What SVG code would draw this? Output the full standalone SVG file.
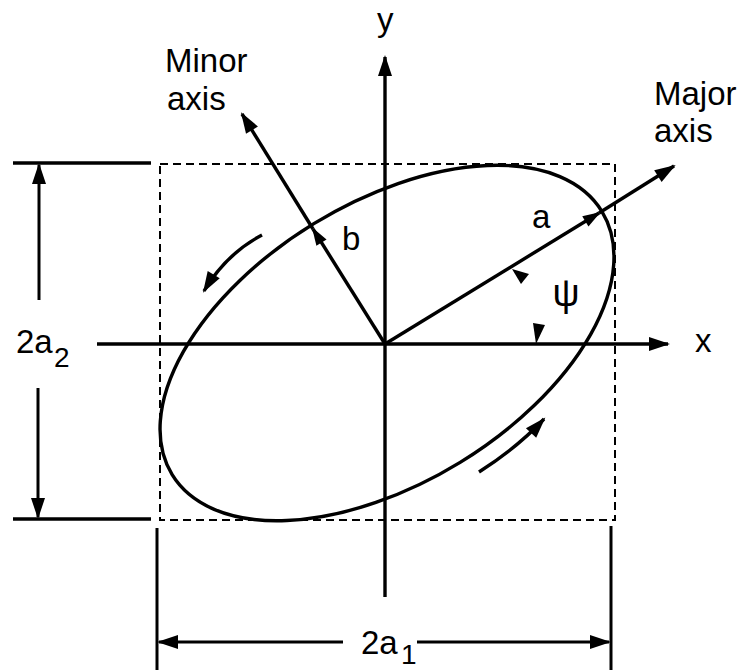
<svg xmlns="http://www.w3.org/2000/svg" width="743" height="672" viewBox="0 0 743 672">
<style>
  .ln { stroke:#000; stroke-width:3.4; fill:none; }
  .dim { stroke:#000; stroke-width:3; fill:none; }
  .dash { stroke:#000; stroke-width:2; fill:none; stroke-dasharray:8 5; }
  .t { font-family:"Liberation Sans", Arial, Helvetica, sans-serif; font-size:33px; fill:#000; }
  .s { font-family:"Liberation Sans", Arial, Helvetica, sans-serif; font-size:28px; fill:#000; }
</style>
<defs>
  <marker id="ah" markerUnits="userSpaceOnUse" markerWidth="21" markerHeight="14" refX="19" refY="7" orient="auto" overflow="visible">
    <path d="M0,0 L21,7 L0,14 Z" fill="#000"/>
  </marker>
  <marker id="ahs" markerUnits="userSpaceOnUse" markerWidth="18" markerHeight="12" refX="16" refY="6" orient="auto" overflow="visible">
    <path d="M0,0 L18,6 L0,12 Z" fill="#000"/>
  </marker>
</defs>
<rect width="743" height="672" fill="#fff"/>

<g id="bounding-box">
  <rect x="160" y="164" width="455" height="356" class="dash"/>
</g>

<g id="ellipse">
  <ellipse cx="387" cy="343" rx="252" ry="140" transform="rotate(-31.5 387 343)" class="ln"/>
</g>

<g id="connectors">
  <!-- axes -->
  <line x1="97" y1="344" x2="668" y2="344" class="ln" marker-end="url(#ah)"/>
  <line x1="385" y1="597" x2="385" y2="57" class="ln" marker-end="url(#ah)"/>
  <!-- major axis -->
  <line x1="385" y1="344" x2="599" y2="213" class="ln" marker-end="url(#ahs)"/>
  <line x1="599" y1="213" x2="674" y2="166" class="ln" marker-end="url(#ah)"/>
  <!-- minor axis -->
  <line x1="385" y1="344" x2="313" y2="229" class="ln" marker-end="url(#ahs)"/>
  <line x1="313" y1="229" x2="242" y2="114" class="ln" marker-end="url(#ah)"/>
  <!-- rotation arrows -->
  <path d="M262,235 Q226,254 204,291" class="ln" marker-end="url(#ah)"/>
  <path d="M479,472 Q518,447 544,419" class="ln" marker-end="url(#ah)"/>
  <!-- psi angle arrowheads -->
  <polygon points="512,269 529,274 521,284" fill="#000"/>
  <polygon points="533,323 545,325 536,344" fill="#000"/>
  <!-- 2a2 dimension -->
  <line x1="13" y1="163" x2="151" y2="163" class="ln"/>
  <line x1="13" y1="519" x2="151" y2="519" class="ln"/>
  <line x1="39" y1="300" x2="39" y2="165" class="dim" marker-end="url(#ah)"/>
  <line x1="38" y1="388" x2="38" y2="517" class="dim" marker-end="url(#ah)"/>
  <!-- 2a1 dimension -->
  <line x1="157" y1="528" x2="157" y2="670" class="dim"/>
  <line x1="611" y1="526" x2="611" y2="670" class="dim"/>
  <line x1="343" y1="642" x2="159" y2="642" class="dim" marker-end="url(#ah)"/>
  <line x1="417" y1="642" x2="609" y2="642" class="dim" marker-end="url(#ah)"/>
</g>

<g id="labels">
  <text x="377" y="31" class="t">y</text>
  <text x="695" y="352" class="t">x</text>
  <text x="165" y="72" class="t">Minor</text>
  <text x="167" y="110" class="t">axis</text>
  <text x="654" y="105" class="t">Major</text>
  <text x="654" y="142" class="t">axis</text>
  <text x="532" y="228" class="t">a</text>
  <text x="342" y="250" class="t">b</text>
  <text x="566" y="306" class="t" text-anchor="middle" style="font-size:38px">ψ</text>
  <text x="16" y="353" class="t">2a</text>
  <text x="54" y="367" class="s">2</text>
  <text x="361" y="654" class="t">2a</text>
  <text x="401" y="664" class="s">1</text>
</g>
</svg>
